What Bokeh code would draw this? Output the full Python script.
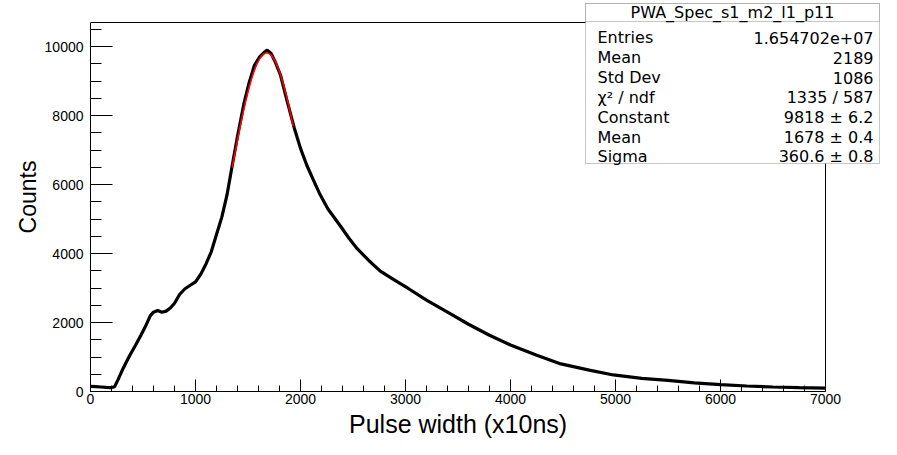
import numpy as np
from bokeh.plotting import figure
from bokeh.models import Range1d, FixedTicker, BoxAnnotation, Label, ColumnDataSource, Title
from bokeh.embed import file_html
from bokeh.resources import INLINE

# ---- histogram readings (pulse width in x10ns, counts) ----
pulse_width = [0, 50, 100, 150, 200, 230, 260, 300, 340, 380, 430, 480, 530, 570, 600,
               640, 680, 720, 760, 800, 850, 900, 950, 1000, 1050, 1100, 1150, 1200,
               1250, 1300, 1350, 1400, 1460, 1510, 1560, 1610, 1650, 1683, 1720, 1760,
               1810, 1870, 1940, 2000, 2060, 2120, 2180, 2260, 2380, 2460, 2540, 2650,
               2760, 2900, 3030, 3200, 3400, 3600, 3800, 4000, 4250, 4480, 4750, 4980,
               5250, 5500, 5750, 6000, 6250, 6500, 6750, 7000]
counts = [150, 140, 130, 120, 115, 140, 330, 600, 850, 1080, 1350, 1630, 1930, 2200, 2300,
          2350, 2300, 2330, 2420, 2560, 2820, 2980, 3080, 3180, 3400, 3700, 4050, 4550,
          5050, 5700, 6560, 7400, 8330, 8950, 9450, 9700, 9820, 9900, 9800, 9550,
          9170, 8450, 7650, 7050, 6560, 6150, 5750, 5300, 4800, 4450, 4140, 3800,
          3490, 3220, 2980, 2650, 2300, 1950, 1630, 1350, 1050, 800, 620, 480,
          380, 320, 250, 200, 160, 130, 110, 95]

# ---- Gaussian fit parameters (from the stats box) ----
fit_constant = 9818.0
fit_mean = 1678.0
fit_sigma = 360.6
fit_range = [1350, 1930]

# ---- axes ----
x_limits = [0, 7000]
y_limits = [0, 10700]
x_major = [0, 1000, 2000, 3000, 4000, 5000, 6000, 7000]
x_minor = list(range(0, 7001, 200))
y_major = [0, 2000, 4000, 6000, 8000, 10000]
y_minor = list(range(0, 10501, 500))
x_title = "Pulse width (x10ns)"
y_title = "Counts"

# ---- stats box ----
stats_title = "PWA_Spec_s1_m2_l1_p11"
stats_names = ["Entries", "Mean", "Std Dev", "\u03c7\u00b2 / ndf", "Constant", "Mean", "Sigma"]
stats_values = ["1.654702e+07", "2189", "1086", "1335 / 587",
                "9818 \u00b1 6.2", "1678 \u00b1 0.4", "360.6 \u00b1 0.8"]

FONT = "Liberation Sans"
STAT_FONT = "DejaVu Sans"

# ---- layout (pixels) ----
W, H = 881, 439
AX_LEFT, AX_RIGHT, AX_TOP, AX_BOTTOM = 90, 825, 22, 391      # axes box on canvas
FR_LEFT, FR_RIGHT, FR_TOP, FR_BOTTOM = 90, 880, 2, 391       # drawing frame (holds stats box)

# extend the ranges so that the axes box sits inside a larger frame
x_end = x_limits[0] + (x_limits[1] - x_limits[0]) * (FR_RIGHT - FR_LEFT) / (AX_RIGHT - AX_LEFT)
y_end = y_limits[0] + (y_limits[1] - y_limits[0]) * (FR_BOTTOM - FR_TOP) / (AX_BOTTOM - AX_TOP)

p = figure(width=W, height=H, output_backend="svg", toolbar_location=None,
           x_range=Range1d(x_limits[0], x_end), y_range=Range1d(y_limits[0], y_end),
           min_border_left=FR_LEFT, min_border_right=W - FR_RIGHT,
           min_border_top=FR_TOP, min_border_bottom=H - FR_BOTTOM)
p.background_fill_color = "white"
p.border_fill_color = "white"
p.outline_line_color = None
p.grid.visible = False

hist = ColumnDataSource(dict(x=pulse_width, y=counts))
p.line("x", "y", source=hist, line_color="black", line_width=3.2)

fx = np.linspace(fit_range[0], fit_range[1], 200)
fy = fit_constant * np.exp(-0.5 * ((fx - fit_mean) / fit_sigma) ** 2)
p.line(fx, fy, line_color="red", line_width=1.6)

# top and right edges of the axes box
p.line([x_limits[0], x_limits[1], x_limits[1]], [y_limits[1], y_limits[1], y_limits[0]],
       line_color="black", line_width=1)

for ax, major, minor, lim in ((p.xaxis[0], x_major, x_minor, x_limits),
                              (p.yaxis[0], y_major, y_minor, y_limits)):
    ax.ticker = FixedTicker(ticks=major, minor_ticks=minor)
    ax.bounds = tuple(lim)
    ax.axis_label_text_font = FONT
    ax.axis_label_text_font_style = "normal"
    ax.axis_label_text_color = "black"
    ax.major_label_text_font = FONT
    ax.major_label_text_font_size = "14px"
    ax.major_label_text_color = "black"
    ax.axis_line_color = "black"
    ax.major_tick_line_color = "black"
    ax.minor_tick_line_color = "black"
    ax.major_tick_out = 0
    ax.minor_tick_out = 0

p.yaxis.axis_label = y_title
p.yaxis.axis_label_text_font_size = "23px"
p.xaxis.major_tick_in = 12
p.xaxis.minor_tick_in = 6
p.xaxis.major_label_standoff = 2
p.yaxis.major_tick_in = 22
p.yaxis.minor_tick_in = 11
p.yaxis.major_label_standoff = 7
p.yaxis.axis_label_standoff = 1

# x-axis title, centred under the axes box (not under the wider frame)
x_title_size = 25
x_title_width = 218   # approx. rendered width of the title at 25px
p.add_layout(Title(text=x_title, align="left",
                   offset=(AX_LEFT + AX_RIGHT) / 2 - FR_LEFT - x_title_width / 2,
                   text_font=FONT, text_font_size=f"{x_title_size}px",
                   text_font_style="normal", text_color="black", standoff=2), "below")

# stats box (canvas coordinates)
box_l, box_r, box_t, box_b, head_b = 585, 879, 3, 163, 21
for bottom in (box_b, head_b):
    p.add_layout(BoxAnnotation(left=box_l, right=box_r, top=box_t, bottom=bottom,
                               left_units="canvas", right_units="canvas",
                               top_units="canvas", bottom_units="canvas",
                               fill_color="white", fill_alpha=1.0,
                               line_color="#444444", line_width=1, level="overlay"))
p.add_layout(Label(x=(box_l + box_r) / 2, y=12, x_units="canvas", y_units="canvas",
                   text=stats_title, text_align="center", text_baseline="middle",
                   text_font=STAT_FONT, text_font_size="16px", text_color="black",
                   level="overlay"))
row_y = [37, 57, 77, 97, 117, 137, 156]
for name, val, yy in zip(stats_names, stats_values, row_y):
    p.add_layout(Label(x=box_l + 12, y=yy, x_units="canvas", y_units="canvas",
                       text=name, text_align="left", text_baseline="middle",
                       text_font=STAT_FONT, text_font_size="16px", text_color="black",
                       level="overlay"))
    p.add_layout(Label(x=box_r - 6, y=yy, x_units="canvas", y_units="canvas",
                       text=val, text_align="right", text_baseline="middle",
                       text_font=STAT_FONT, text_font_size="16px", text_color="black",
                       level="overlay"))

open("out.html", "w").write(file_html(p, INLINE))
